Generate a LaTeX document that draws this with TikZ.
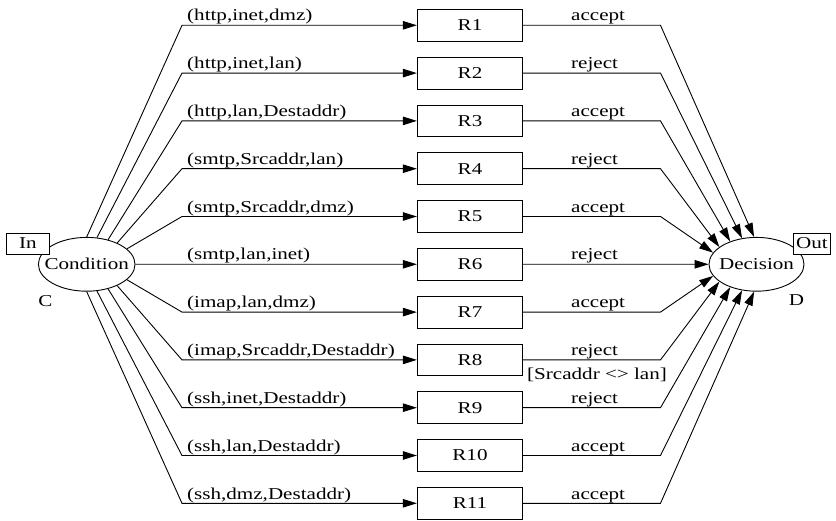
\documentclass[tikz,border=0pt]{standalone}
\usepackage{fontspec}
\setmainfont[FakeStretch=1.27]{Liberation Serif}
\usetikzlibrary{shapes.geometric,arrows.meta}
\newcommand\diagfont{\fontsize{16.6pt}{20pt}\selectfont}
\begin{document}
\begin{tikzpicture}[x=1pt,y=-1pt,
  every node/.style={font=\diagfont},
  rulebox/.style={draw, rectangle, line width=0.9pt, minimum width=105.4pt,
    minimum height=31.8pt, inner sep=0pt, fill=white},
  procnode/.style={draw, ellipse, line width=0.9pt, inner sep=0pt,
    minimum height=53.8pt},
  portbox/.style={draw, rectangle, line width=0.9pt, fill=white,
    minimum height=21pt, inner sep=0pt},
  flow/.style={line width=0.9pt, -{Triangle[length=14pt,width=8.5pt]}},
  tag/.style={anchor=base west, inner sep=0pt},
]
\useasboundingbox (0,0) rectangle (836,521);

% source and sink
\node[procnode, minimum width=96.6pt] (c) at (86.7,264.3) {\makebox[0pt]{Condition}};
\node[procnode, minimum width=95pt] (d) at (756.5,264.3) {\makebox[0pt]{Decision}};
\node[portbox, minimum width=42.6pt] (in) at (28,243.5) {In};
\node[portbox, minimum width=37.4pt] (out) at (812,243.5) {Out};
\node[anchor=base, inner sep=0pt] (cl) at (45.5,307) {C};
\node[anchor=base, inner sep=0pt] (dl) at (796.5,306) {D};

% the eleven rules
\foreach \i/\lab/\res/\ain/\aout in {
  1/{(http,inet,dmz)}/accept/90/95,
  2/{(http,inet,lan)}/reject/69.7/119,
  3/{(http,lan,Destaddr)}/accept/49.8/139,
  4/{(smtp,Srcaddr,lan)}/reject/35.7/155,
  5/{(smtp,Srcaddr,dmz)}/accept/21.6/165,
  6/{(smtp,lan,inet)}/reject/0/180,
  7/{(imap,lan,dmz)}/accept/-21.6/195,
  8/{(imap,Srcaddr,Destaddr)}/reject/-35.7/205,
  9/{(ssh,inet,Destaddr)}/reject/-49.8/221,
  10/{(ssh,lan,Destaddr)}/accept/-69.7/241,
  11/{(ssh,dmz,Destaddr)}/accept/-90/265}{
  \pgfmathsetmacro\y{25.3+47.8*(\i-1)}
  \node[rulebox] (r\i) at (470,\y) {R\i};
  \coordinate (a\i) at (182,\y);
  \coordinate (b\i) at (660.5,\y);
  \draw[flow] (c.\ain) -- (a\i) -- (r\i.west);
  \node[tag] (li\i) at (187,\y-4.3) {\lab};
  \draw[flow] (r\i.east) -- (b\i) -- (d.\aout);
  \node[tag] (lo\i) at (571,\y-4.3) {\res};
}
\node[tag] (guard) at (527,380) {[Srcaddr <> lan]};
\end{tikzpicture}
\end{document}
